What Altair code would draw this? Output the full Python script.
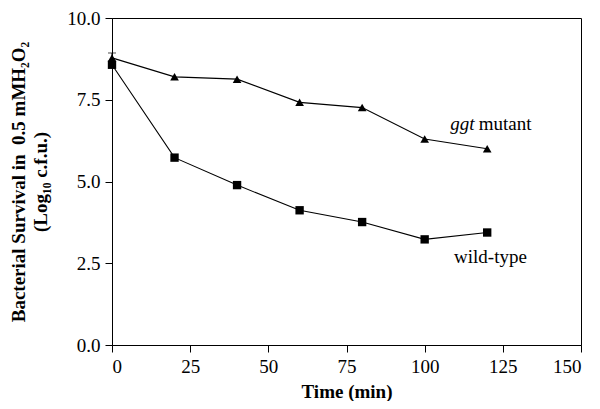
import altair as alt
import pandas as pd

time_min = [0, 20, 40, 60, 80, 100, 120]
mutant_vals = [8.78, 8.2, 8.13, 7.42, 7.26, 6.3, 6.0]
wild_vals = [8.57, 5.73, 4.89, 4.12, 3.76, 3.23, 3.44]
series_names = ["ggt mutant", "wild-type"]
x_ticks = [0, 25, 50, 75, 100, 125, 150]
y_ticks = [0, 2.5, 5, 7.5, 10]
err_time = [0]
err_low = [8.66]
err_high = [8.93]
label_text = ["ggt", "mutant", "wild-type"]
label_x = [108.2, 117.3, 109.4]
label_y = [6.75, 6.75, 2.69]
label_italic = [True, False, False]

FONT = "Liberation Serif"

df = pd.DataFrame({
    "time": time_min * 2,
    "value": mutant_vals + wild_vals,
    "series": [series_names[0]] * len(time_min) + [series_names[1]] * len(time_min),
})
err_df = pd.DataFrame({"time": err_time, "lo": err_low, "hi": err_high})
lab_df = pd.DataFrame({"x": label_x, "y": label_y, "text": label_text, "italic": label_italic})

xs = alt.Scale(domain=[0, 150], nice=False)
ys = alt.Scale(domain=[0, 10], nice=False)

x_axis = alt.Axis(values=x_ticks, title="Time (min)", format="d",
                  titleY=52, titleBaseline="alphabetic")
y_axis = alt.Axis(values=y_ticks, format=".1f",
                  title=["Bacterial Survival in \u00a00.5 mMH\u2082O\u2082", "(Log\u2081\u2080 c.f.u.)"],
                  titleX=-103, titleBaseline="top", titleLineHeight=22)

base = alt.Chart(df)
lines = base.mark_line(color="black", strokeWidth=1.1).encode(
    x=alt.X("time:Q", scale=xs, axis=x_axis),
    y=alt.Y("value:Q", scale=ys, axis=y_axis),
    detail="series:N",
)
points = base.mark_point(filled=True, color="black", opacity=1).encode(
    x=alt.X("time:Q", scale=xs),
    y=alt.Y("value:Q", scale=ys),
    shape=alt.Shape("series:N", scale=alt.Scale(domain=series_names, range=["triangle-up", "square"]), legend=None),
    size=alt.Size("series:N", scale=alt.Scale(domain=series_names, range=[75, 70]), legend=None),
)
err = alt.Chart(err_df).mark_rule(color="black", strokeWidth=1).encode(
    x=alt.X("time:Q", scale=xs), y=alt.Y("lo:Q", scale=ys), y2="hi:Q"
)
cap = alt.Chart(err_df).mark_tick(color="black", orient="horizontal", size=8, thickness=1).encode(
    x=alt.X("time:Q", scale=xs), y=alt.Y("hi:Q", scale=ys)
)
lab_it = alt.Chart(lab_df).transform_filter("datum.italic").mark_text(
    font=FONT, fontSize=19, fontStyle="italic", align="left", baseline="middle", color="black"
).encode(x=alt.X("x:Q", scale=xs), y=alt.Y("y:Q", scale=ys), text="text:N")
lab_n = alt.Chart(lab_df).transform_filter("!datum.italic").mark_text(
    font=FONT, fontSize=19, align="left", baseline="middle", color="black"
).encode(x=alt.X("x:Q", scale=xs), y=alt.Y("y:Q", scale=ys), text="text:N")

chart = alt.layer(lines, err, cap, points, lab_it, lab_n).properties(
    width=469, height=327,
    autosize=alt.AutoSizeParams(type="none"),
    padding={"left": 104, "top": 10, "right": 11, "bottom": 56},
).configure_view(
    stroke="black", strokeWidth=1
).configure_axis(
    grid=False, domainColor="black", tickColor="black", tickSize=7,
    labelFont=FONT, labelFontSize=19, labelColor="black", labelPadding=5,
    titleFont=FONT, titleFontSize=19, titleFontWeight="bold", titleColor="black",
).configure_axisLeft(
    titleFontSize=19
)

chart.save("out.html", embed_options={"renderer": "svg", "actions": False})
